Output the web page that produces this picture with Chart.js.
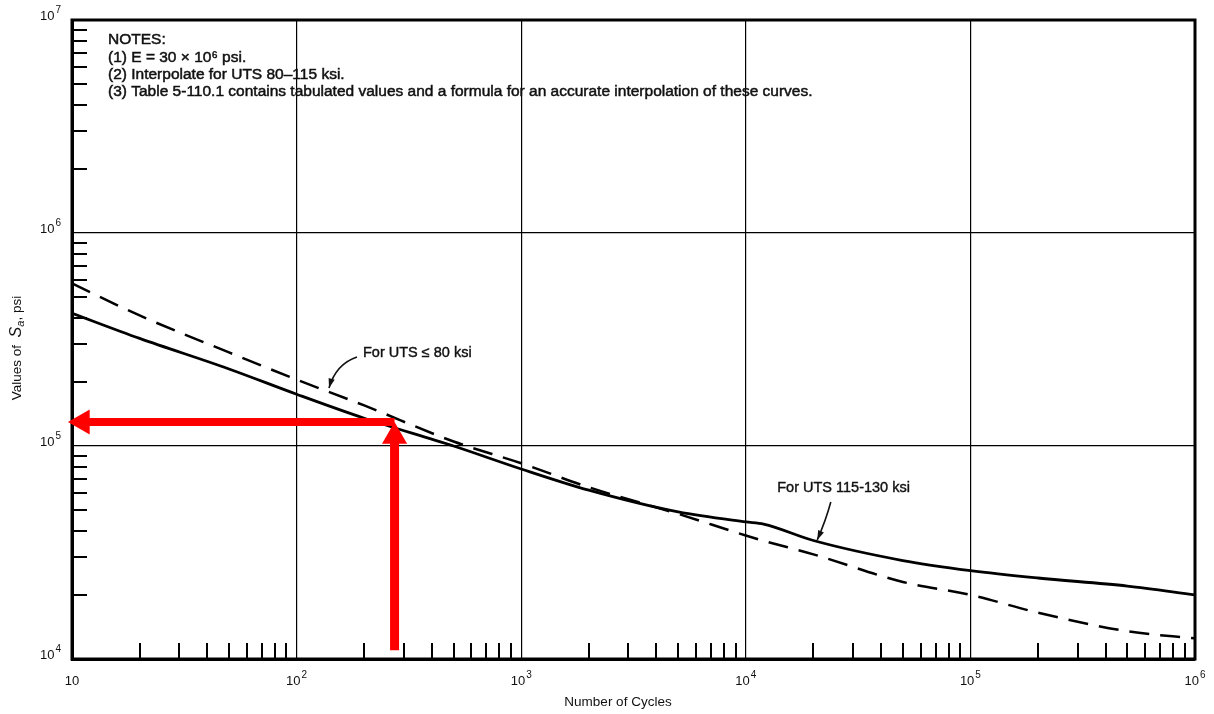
<!DOCTYPE html>
<html>
<head>
<meta charset="utf-8">
<script src="https://cdn.jsdelivr.net/npm/chart.js@4.4.1/dist/chart.umd.min.js"></script>
<style>
html, body { margin: 0; padding: 0; background: #fff; }
#wrap { width: 1214px; height: 714px; }
</style>
</head>
<body>
<div id="wrap"><canvas id="myChart"></canvas></div>
<script>
// values (psi)
var cycles = [10, 20, 50, 100, 200, 500, 1000, 2000, 5000, 10000, 12000, 20000, 50000, 100000, 200000, 500000, 1000000];
var sa_uts80 = [580000, 410000, 275000, 205000, 155000, 105000, 83000, 64000, 48000, 38000, 35900, 31000, 23000, 20000, 16500, 13500, 12500];
var sa_uts115 = [420000, 320000, 230000, 175000, 135000, 100000, 78000, 62000, 49000, 44000, 43000, 36000, 29000, 26000, 24000, 22000, 20000];

// red reading arrows
var arrow_up_x = [273, 273];
var arrow_up_y = [11000, 110800];
var arrow_left_x = [273, 11.13];
var arrow_left_y = [129700, 129700];

var x_ticks = [10, 100, 1000, 10000, 100000, 1000000];
var x_tick_base = ['10', '10', '10', '10', '10', '10'];
var x_tick_exp = ['', '2', '3', '4', '5', '6'];
var y_ticks = [10000, 100000, 1000000, 10000000];
var y_tick_base = ['10', '10', '10', '10'];
var y_tick_exp = ['4', '5', '6', '7'];

var notes = [
    'NOTES:',
    '(1) E = 30 × 10⁶ psi.',
    '(2) Interpolate for UTS 80–115 ksi.',
    '(3) Table 5-110.1 contains tabulated values and a formula for an accurate interpolation of these curves.'
];

// callouts: label anchor, arrow start, control, tip (data units)
var callout_text = ['For UTS ≤ 80 ksi', 'For UTS 115-130 ksi'];
var callout_label = [[197.5, 273300], [13800, 63500]];
var callout_start = [[185.7, 261700], [23900, 54600]];
var callout_ctrl = [[149.8, 242700], [22750, 44950]];
var callout_tip = [[139.4, 187200], [20800, 36200]];

var FONT = '"Liberation Sans", Arial, sans-serif';

function pts(xs, ys) {
    let out = [];
    for (let i = 0; i < xs.length; i++) out.push({ x: xs[i], y: ys[i] });
    return out;
}

// "10" with a raised exponent; align: 'center' or 'right'
function powerLabel(ctx, base, exp, x, y, align) {
    ctx.font = '13px ' + FONT;
    let wb = ctx.measureText(base).width;
    ctx.font = '10px ' + FONT;
    let we = exp ? ctx.measureText(exp).width + 1 : 0;
    let x0 = align === 'right' ? x - wb - we : x - (wb + we) / 2;
    ctx.textAlign = 'left';
    ctx.textBaseline = 'middle';
    ctx.font = '13px ' + FONT;
    ctx.fillText(base, x0, y);
    if (exp) {
        ctx.font = '10px ' + FONT;
        ctx.fillText(exp, x0 + wb + 1, y - 6);
    }
}

const decor = {
    id: 'decor',
    beforeDatasetsDraw(chart) {
        const ctx = chart.ctx;
        const a = chart.chartArea;
        const xs = chart.scales.x, ys = chart.scales.y;
        ctx.save();
        ctx.strokeStyle = '#000';
        // minor ticks inside the frame
        ctx.lineWidth = 2;
        ctx.beginPath();
        for (let d = 1; d < 6; d++) {
            for (let k = 2; k <= 9; k++) {
                let px = Math.round(xs.getPixelForValue(k * Math.pow(10, d)));
                ctx.moveTo(px, a.bottom);
                ctx.lineTo(px, a.bottom - 16);
            }
        }
        for (let d = 4; d < 7; d++) {
            for (let k = 2; k <= 9; k++) {
                let py = Math.round(ys.getPixelForValue(k * Math.pow(10, d)));
                ctx.moveTo(a.left, py);
                ctx.lineTo(a.left + 15, py);
            }
        }
        ctx.stroke();
        // frame
        ctx.lineWidth = 3;
        ctx.strokeRect(a.left, a.top, a.right - a.left, a.bottom - a.top);
        ctx.restore();
    },
    afterDraw(chart) {
        const ctx = chart.ctx;
        const a = chart.chartArea;
        const xs = chart.scales.x, ys = chart.scales.y;
        ctx.save();
        ctx.fillStyle = '#111';
        ctx.strokeStyle = '#111';
        // tick labels
        for (let i = 0; i < x_ticks.length; i++) {
            powerLabel(ctx, x_tick_base[i], x_tick_exp[i], xs.getPixelForValue(x_ticks[i]), a.bottom + 22, 'center');
        }
        for (let i = 0; i < y_ticks.length; i++) {
            powerLabel(ctx, y_tick_base[i], y_tick_exp[i], a.left - 11, ys.getPixelForValue(y_ticks[i]) - 4, 'right');
        }
        // notes (scan is heavy, so give the glyphs a thin outline)
        ctx.font = '15.5px ' + FONT;
        ctx.textBaseline = 'middle';
        ctx.textAlign = 'left';
        ctx.lineWidth = 0.5;
        let ny = [a.top + 20, a.top + 38, a.top + 55, a.top + 72];
        for (let i = 0; i < notes.length; i++) {
            ctx.fillText(notes[i], a.left + 36, ny[i]);
            ctx.strokeText(notes[i], a.left + 36, ny[i]);
        }
        // callouts
        ctx.font = '14.5px ' + FONT;
        for (let i = 0; i < callout_text.length; i++) {
            let lx = xs.getPixelForValue(callout_label[i][0]), ly = ys.getPixelForValue(callout_label[i][1]);
            ctx.lineWidth = 0.4;
            ctx.fillText(callout_text[i], lx, ly);
            ctx.strokeText(callout_text[i], lx, ly);
            let sx = xs.getPixelForValue(callout_start[i][0]), sy = ys.getPixelForValue(callout_start[i][1]);
            let cx = xs.getPixelForValue(callout_ctrl[i][0]), cy = ys.getPixelForValue(callout_ctrl[i][1]);
            let tx = xs.getPixelForValue(callout_tip[i][0]), ty = ys.getPixelForValue(callout_tip[i][1]);
            ctx.lineWidth = 1.6;
            ctx.beginPath();
            ctx.moveTo(sx, sy);
            ctx.quadraticCurveTo(cx, cy, tx, ty);
            ctx.stroke();
            let ang = Math.atan2(ty - cy, tx - cx);
            ctx.beginPath();
            ctx.moveTo(tx, ty);
            ctx.lineTo(tx - 10 * Math.cos(ang - 0.32), ty - 10 * Math.sin(ang - 0.32));
            ctx.lineTo(tx - 10 * Math.cos(ang + 0.32), ty - 10 * Math.sin(ang + 0.32));
            ctx.closePath();
            ctx.fill();
        }
        // axis titles
        ctx.font = '13.5px ' + FONT;
        ctx.textAlign = 'center';
        ctx.fillText('Number of Cycles', 618, 702);
        ctx.translate(17, 348);
        ctx.rotate(-Math.PI / 2);
        ctx.textAlign = 'left';
        let parts = [
            ['Values of  ', '13.5px ' + FONT, 0],
            ['S', 'italic 16px ' + FONT, 0],
            ['a', 'italic 11px ' + FONT, 4],
            [', psi', '13.5px ' + FONT, 0]
        ];
        let total = 0;
        parts.forEach(p => { ctx.font = p[1]; total += ctx.measureText(p[0]).width; });
        let x0 = -total / 2;
        parts.forEach(p => {
            ctx.font = p[1];
            ctx.fillText(p[0], x0, p[2]);
            x0 += ctx.measureText(p[0]).width;
        });
        ctx.restore();
    }
};

var ctx = document.getElementById('myChart');
var chart = new Chart(ctx, {
    type: 'scatter',
    data: {
        datasets: [
            {
                label: 'arrow up',
                data: pts(arrow_up_x, arrow_up_y),
                showLine: true,
                borderColor: '#ff0000',
                backgroundColor: '#ff0000',
                borderWidth: 9,
                pointStyle: 'triangle',
                pointRadius: [0, 14.5],
                pointBorderWidth: 0,
                pointRotation: [0, 0],
                clip: false,
                order: 0
            },
            {
                label: 'arrow left',
                data: pts(arrow_left_x, arrow_left_y),
                showLine: true,
                borderColor: '#ff0000',
                backgroundColor: '#ff0000',
                borderWidth: 8,
                pointStyle: 'triangle',
                pointRadius: [0, 14.5],
                pointBorderWidth: 0,
                pointRotation: [0, -90],
                clip: false,
                order: 0
            },
            {
                label: 'For UTS <= 80 ksi',
                data: pts(cycles, sa_uts80),
                showLine: true,
                borderColor: '#000',
                borderWidth: 2.5,
                borderDash: [20, 11],
                pointRadius: 0,
                cubicInterpolationMode: 'monotone',
                order: 1
            },
            {
                label: 'For UTS 115-130 ksi',
                data: pts(cycles, sa_uts115),
                showLine: true,
                borderColor: '#000',
                borderWidth: 2.8,
                pointRadius: 0,
                cubicInterpolationMode: 'monotone',
                order: 1
            }
        ]
    },
    options: {
        responsive: true,
        maintainAspectRatio: false,
        animation: false,
        layout: { padding: { top: 20, right: 19, left: 0, bottom: 0 } },
        scales: {
            x: {
                type: 'logarithmic',
                min: 10,
                max: 1000000,
                afterBuildTicks: function (s) { s.ticks = x_ticks.map(v => ({ value: v })); },
                afterFit: function (s) { s.height = 55; },
                grid: { color: '#000', lineWidth: 1.2, drawTicks: false },
                border: { display: true, color: '#000', width: 3 },
                ticks: { display: false }
            },
            y: {
                type: 'logarithmic',
                min: 10000,
                max: 10000000,
                afterBuildTicks: function (s) { s.ticks = y_ticks.map(v => ({ value: v })); },
                afterFit: function (s) { s.width = 72; },
                grid: { color: '#000', lineWidth: 1.2, drawTicks: false },
                border: { display: true, color: '#000', width: 3 },
                ticks: { display: false }
            }
        },
        plugins: {
            legend: { display: false },
            tooltip: { enabled: false },
            title: { display: false }
        }
    },
    plugins: [decor]
});
</script>
</body>
</html>
